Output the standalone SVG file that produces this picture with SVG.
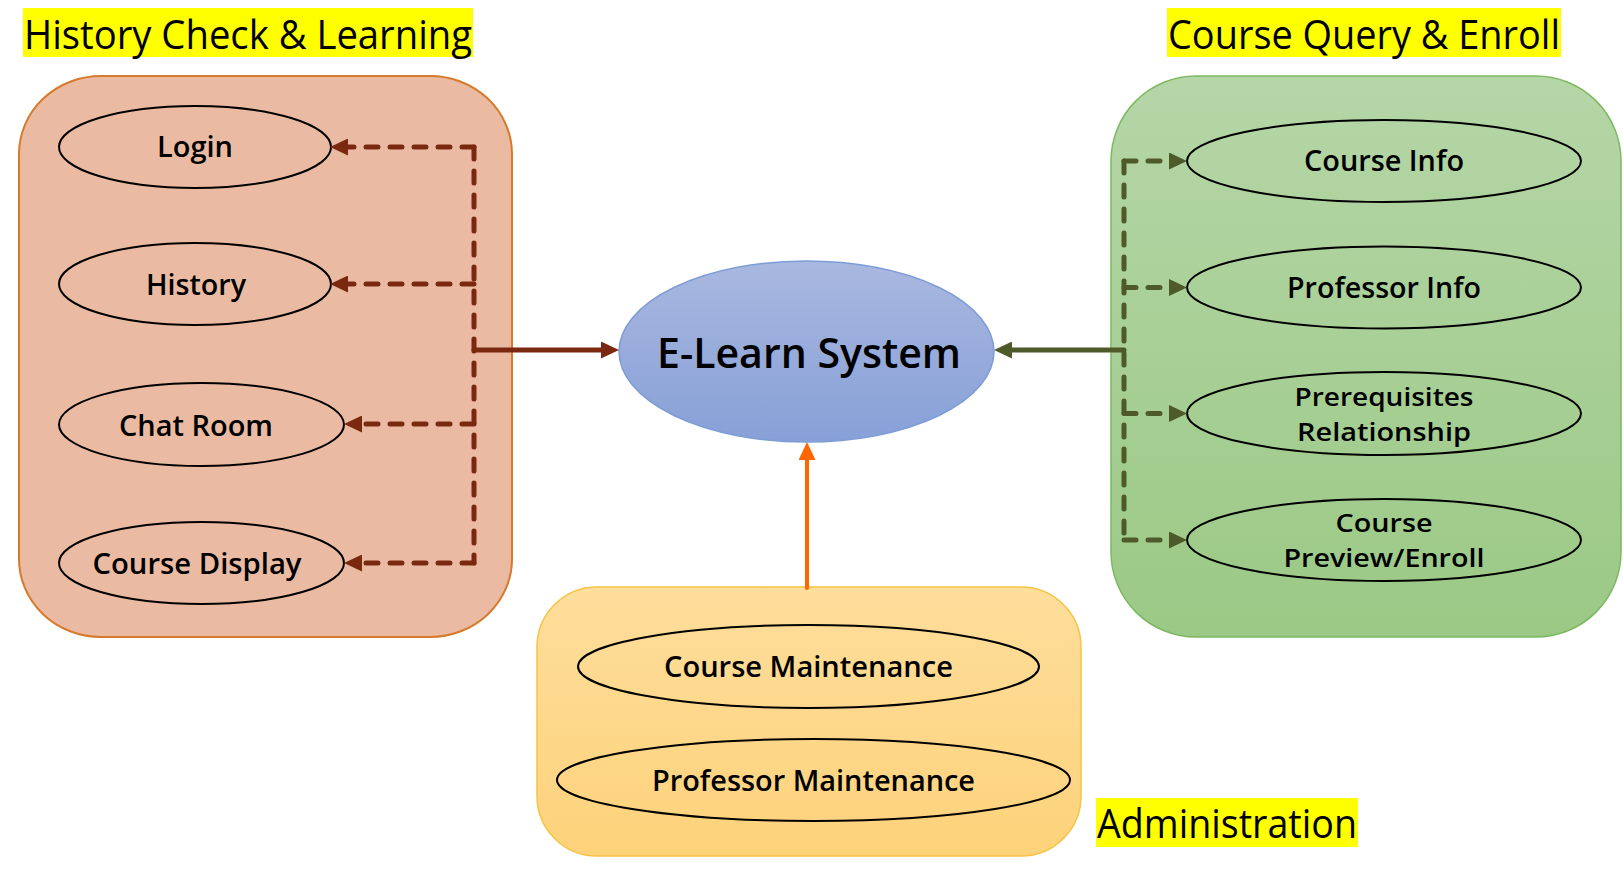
<svg xmlns="http://www.w3.org/2000/svg" width="1623" height="871" viewBox="0 0 1623 871">
<style>
  .title { font-family: "Open Sans", "Liberation Sans", sans-serif; font-size: 40px; fill: #000; }
  .hl { fill: #FFFF00; }
  .uc { fill: none; stroke: #000; stroke-width: 2; }
  .lbl { font-family: "Open Sans", "Liberation Sans", sans-serif; font-size: 28px; font-weight: 600; fill: #000; text-anchor: middle; }
  .lbl2 { font-size: 26px; }
  .brown { fill: none; stroke: #7B2810; stroke-width: 5; stroke-linecap: round; }
  .green { fill: none; stroke: #4E5A2A; stroke-width: 5; stroke-linecap: round; }
  .dash { stroke-dasharray: 12 12; }
</style>
<defs>
  <linearGradient id="gGreen" x1="0" y1="0" x2="0" y2="1">
    <stop offset="0" stop-color="#B5D6A7"/>
    <stop offset="1" stop-color="#9BC985"/>
  </linearGradient>
  <linearGradient id="gYellow" x1="0" y1="0" x2="0" y2="1">
    <stop offset="0" stop-color="#FEDE9C"/>
    <stop offset="1" stop-color="#FDD27A"/>
  </linearGradient>
  <linearGradient id="gBlue" x1="0" y1="0" x2="0" y2="1">
    <stop offset="0" stop-color="#A9B8E0"/>
    <stop offset="1" stop-color="#87A0D7"/>
  </linearGradient>
  <marker id="aBrown" markerUnits="userSpaceOnUse" viewBox="0 0 18 17" markerWidth="18" markerHeight="17" refX="10" refY="8.5" orient="auto">
    <path d="M0,0 L18,8.5 L0,17 z" fill="#7B2810"/>
  </marker>
  <marker id="aGreen" markerUnits="userSpaceOnUse" viewBox="0 0 18 17" markerWidth="18" markerHeight="17" refX="10" refY="8.5" orient="auto">
    <path d="M0,0 L18,8.5 L0,17 z" fill="#4E5A2A"/>
  </marker>
  <marker id="aOrange" markerUnits="userSpaceOnUse" viewBox="0 0 18 17" markerWidth="18" markerHeight="17" refX="10" refY="8.5" orient="auto">
    <path d="M0,0 L18,8.5 L0,17 z" fill="#FF6600"/>
  </marker>
</defs>

<g id="group-history">
  <rect x="19" y="76" width="493" height="561" rx="82" ry="78" fill="#EABBA2" stroke="#D67A2C" stroke-width="2"/>
  <rect class="hl" x="23" y="8" width="450" height="49"/>
  <text class="title" x="24" y="49" textLength="448" lengthAdjust="spacingAndGlyphs">History Check &amp; Learning</text>
</g>
<g id="node-login">
  <ellipse class="uc" cx="195" cy="147" rx="136" ry="41"/>
  <text class="lbl" x="195" y="157" textLength="76" lengthAdjust="spacingAndGlyphs">Login</text>
</g>
<g id="node-history">
  <ellipse class="uc" cx="195" cy="284" rx="136" ry="41"/>
  <text class="lbl" x="196" y="295" textLength="100" lengthAdjust="spacingAndGlyphs">History</text>
</g>
<g id="node-chatroom">
  <ellipse class="uc" cx="201.5" cy="424.5" rx="142.5" ry="41.5"/>
  <text class="lbl" x="196" y="436" textLength="154" lengthAdjust="spacingAndGlyphs">Chat Room</text>
</g>
<g id="node-coursedisplay">
  <ellipse class="uc" cx="201.5" cy="563" rx="142.5" ry="41"/>
  <text class="lbl" x="197" y="574" textLength="209" lengthAdjust="spacingAndGlyphs">Course Display</text>
</g>

<g id="group-query">
  <rect x="1111" y="76" width="510" height="561" rx="85" ry="85" fill="url(#gGreen)" stroke="#7DB862" stroke-width="1.5"/>
  <rect class="hl" x="1167" y="8" width="394" height="49"/>
  <text class="title" x="1168" y="49" textLength="392" lengthAdjust="spacingAndGlyphs">Course Query &amp; Enroll</text>
</g>
<g id="node-courseinfo">
  <ellipse class="uc" cx="1384" cy="161" rx="197" ry="41"/>
  <text class="lbl" x="1384" y="171" textLength="160" lengthAdjust="spacingAndGlyphs">Course Info</text>
</g>
<g id="node-professorinfo">
  <ellipse class="uc" cx="1384" cy="287.5" rx="197" ry="41"/>
  <text class="lbl" x="1384" y="298" textLength="194" lengthAdjust="spacingAndGlyphs">Professor Info</text>
</g>
<g id="node-prereq">
  <ellipse class="uc" cx="1384" cy="413.5" rx="197" ry="41.5"/>
  <text class="lbl lbl2" x="1384" y="406" textLength="179" lengthAdjust="spacingAndGlyphs">Prerequisites</text>
  <text class="lbl lbl2" x="1384" y="441" textLength="174" lengthAdjust="spacingAndGlyphs">Relationship</text>
</g>
<g id="node-preview">
  <ellipse class="uc" cx="1384" cy="540" rx="197" ry="41"/>
  <text class="lbl lbl2" x="1384" y="532" textLength="97" lengthAdjust="spacingAndGlyphs">Course</text>
  <text class="lbl lbl2" x="1384" y="567" textLength="201" lengthAdjust="spacingAndGlyphs">Preview/Enroll</text>
</g>

<g id="group-admin">
  <rect x="537" y="587" width="544" height="269" rx="60" ry="60" fill="url(#gYellow)" stroke="#F6C444" stroke-width="1.5"/>
  <rect class="hl" x="1096" y="798" width="262" height="49"/>
  <text class="title" x="1097" y="838" textLength="260" lengthAdjust="spacingAndGlyphs">Administration</text>
</g>
<g id="node-coursemaint">
  <ellipse class="uc" cx="808.5" cy="666.5" rx="230.5" ry="41.5"/>
  <text class="lbl" x="808.5" y="677" textLength="289" lengthAdjust="spacingAndGlyphs">Course Maintenance</text>
</g>
<g id="node-profmaint">
  <ellipse class="uc" cx="813.5" cy="780" rx="256.5" ry="41"/>
  <text class="lbl" x="813.5" y="791" textLength="323" lengthAdjust="spacingAndGlyphs">Professor Maintenance</text>
</g>

<g id="node-elearn">
  <ellipse cx="806.5" cy="351.5" rx="187.5" ry="90.5" fill="url(#gBlue)" stroke="#7E9DD6" stroke-width="1.5"/>
  <text x="809" y="368" font-family="'Open Sans', 'Liberation Sans', sans-serif" font-size="42" font-weight="600" text-anchor="middle" textLength="304" lengthAdjust="spacingAndGlyphs">E-Learn System</text>
</g>

<g id="connectors">
  <path class="brown dash" d="M474,147 V563"/>
  <path class="brown dash" d="M474,147 H338" marker-end="url(#aBrown)"/>
  <path class="brown dash" d="M474,284 H338" marker-end="url(#aBrown)"/>
  <path class="brown dash" d="M474,424 H352" marker-end="url(#aBrown)"/>
  <path class="brown dash" d="M474,563 H352" marker-end="url(#aBrown)"/>
  <path class="brown" d="M474,350 H611" marker-end="url(#aBrown)"/>

  <path class="green dash" d="M1124,161 V540"/>
  <path class="green dash" d="M1124,161 H1179" marker-end="url(#aGreen)"/>
  <path class="green dash" d="M1124,287.5 H1179" marker-end="url(#aGreen)"/>
  <path class="green dash" d="M1124,413.5 H1179" marker-end="url(#aGreen)"/>
  <path class="green dash" d="M1124,540 H1179" marker-end="url(#aGreen)"/>
  <path class="green" d="M1124,350 H1002" marker-end="url(#aGreen)"/>

  <path d="M807,588 V450" fill="none" stroke="#FF6600" stroke-width="4" stroke-linecap="round" marker-end="url(#aOrange)"/>
</g>
</svg>
